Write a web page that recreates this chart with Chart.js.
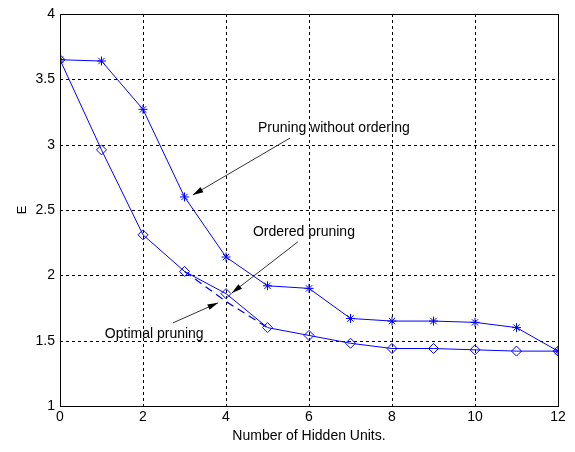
<!DOCTYPE html>
<html>
<head>
<meta charset="utf-8">
<script src="https://cdn.jsdelivr.net/npm/chart.js@4/dist/chart.umd.min.js"></script>
<style>
  html, body { margin: 0; padding: 0; background: #fff; }
  #wrap { width: 575px; height: 452px; }
</style>
</head>
<body>
<div id="wrap"><canvas id="myChart" width="575" height="452"></canvas></div>
<script>
// data
var units = [0, 1, 2, 3, 4, 5, 6, 7, 8, 9, 10, 11, 12];
var withoutOrdering = [3.65, 3.64, 3.27, 2.60, 2.14, 1.92, 1.90, 1.67, 1.65, 1.65, 1.64, 1.60, 1.42];
var orderedPruning = [3.65, 2.96, 2.31, 2.03, 1.86, 1.60, 1.54, 1.48, 1.44, 1.44, 1.43, 1.42, 1.42];
var optimalUnits = [3, 4, 5];
var optimalPruning = [2.03, 1.80, 1.60];
var xTicks = [0, 2, 4, 6, 8, 10, 12];
var yTicks = [1, 1.5, 2, 2.5, 3, 3.5, 4];

// text labels with arrows, in data units
var notes = [
  { text: "Pruning without ordering", x: 4.77, y: 3.13, from: [5.54, 3.05], to: [3.2, 2.615] },
  { text: "Ordered pruning", x: 4.65, y: 2.33, from: [5.73, 2.256], to: [4.14, 1.865] },
  { text: "Optimal pruning", x: 1.08, y: 1.55, from: [2.72, 1.636], to: [3.81, 1.79] }
];

function toPoints(xs, ys) {
  var out = [];
  for (var i = 0; i < xs.length; i++) out.push({ x: xs[i], y: ys[i] });
  return out;
}

var blue = "#0000ff";
var fam = "'Liberation Sans', Arial, sans-serif";

// dotted grid (matlab style), drawn at the scale ticks
var dashGrid = {
  id: "dashGrid",
  beforeDatasetsDraw: function (chart) {
    var ctx = chart.ctx;
    var xs = chart.scales.x, ys = chart.scales.y;
    var a = chart.chartArea;
    ctx.save();
    ctx.strokeStyle = "#000";
    ctx.lineWidth = 1;
    ctx.setLineDash([3, 3]);
    xs.ticks.forEach(function (t) {
      var px = Math.round(xs.getPixelForValue(t.value)) + 0.5;
      ctx.beginPath();
      ctx.moveTo(px, a.top);
      ctx.lineTo(px, a.bottom);
      ctx.stroke();
    });
    ys.ticks.forEach(function (t) {
      var py = Math.round(ys.getPixelForValue(t.value)) + 0.5;
      ctx.beginPath();
      ctx.moveTo(a.left, py);
      ctx.lineTo(a.right, py);
      ctx.stroke();
    });
    ctx.restore();
  }
};

// box round the plot and the arrows
var extras = {
  id: "extras",
  afterDatasetsDraw: function (chart) {
    var ctx = chart.ctx;
    var xs = chart.scales.x, ys = chart.scales.y;
    var a = chart.chartArea;
    ctx.save();
    ctx.strokeStyle = "#000";
    ctx.lineWidth = 1;
    ctx.setLineDash([]);
    ctx.strokeRect(Math.round(a.left) + 0.5, Math.round(a.top) + 0.5,
      Math.round(a.right - a.left), Math.round(a.bottom - a.top));

    ctx.font = "14px " + fam;
    ctx.textBaseline = "middle";
    ctx.textAlign = "left";
    for (var i = 0; i < notes.length; i++) {
      var n = notes[i];
      ctx.fillStyle = "#000";
      ctx.fillText(n.text, xs.getPixelForValue(n.x), ys.getPixelForValue(n.y));
      var x1 = xs.getPixelForValue(n.from[0]), y1 = ys.getPixelForValue(n.from[1]);
      var x2 = xs.getPixelForValue(n.to[0]), y2 = ys.getPixelForValue(n.to[1]);
      ctx.strokeStyle = "#333";
      ctx.beginPath();
      ctx.moveTo(x1, y1);
      ctx.lineTo(x2, y2);
      ctx.stroke();
      var ang = Math.atan2(y2 - y1, x2 - x1);
      var len = 11, wid = 0.27;
      ctx.fillStyle = "#000";
      ctx.beginPath();
      ctx.moveTo(x2, y2);
      ctx.lineTo(x2 - len * Math.cos(ang - wid), y2 - len * Math.sin(ang - wid));
      ctx.lineTo(x2 - len * Math.cos(ang + wid), y2 - len * Math.sin(ang + wid));
      ctx.closePath();
      ctx.fill();
    }
    ctx.restore();
  }
};

var config = {
  type: "line",
  data: {
    datasets: [
      {
        label: "Pruning without ordering",
        data: toPoints(units, withoutOrdering),
        borderColor: blue,
        backgroundColor: blue,
        borderWidth: 1,
        pointStyle: "star",
        pointRadius: 4.5,
        pointBorderWidth: 1,
        tension: 0
      },
      {
        label: "Ordered pruning",
        data: toPoints(units, orderedPruning),
        borderColor: blue,
        backgroundColor: "rgba(0,0,0,0)",
        borderWidth: 1,
        pointStyle: "rectRot",
        pointRadius: 5,
        pointBorderWidth: 1,
        tension: 0
      },
      {
        label: "Optimal pruning",
        data: toPoints(optimalUnits, optimalPruning),
        borderColor: blue,
        borderWidth: 1.2,
        borderDash: [8, 5],
        pointRadius: 0,
        tension: 0
      }
    ]
  },
  options: {
    responsive: false,
    animation: false,
    layout: { padding: { left: 11, right: 17, top: 14, bottom: 3 } },
    plugins: { legend: { display: false }, tooltip: { enabled: false } },
    scales: {
      x: {
        type: "linear",
        min: 0,
        max: 12,
        afterBuildTicks: function (scale) {
          scale.ticks = xTicks.map(function (v) { return { value: v }; });
        },
        afterFit: function (scale) { scale.height = 43; },
        grid: { display: false, drawTicks: false },
        border: { display: false },
        ticks: {
          color: "#000",
          padding: 3,
          maxRotation: 0,
          font: { family: fam, size: 14 },
          callback: function (v) { return String(v); }
        },
        title: {
          display: true,
          text: "Number of Hidden Units.",
          color: "#000",
          font: { family: fam, size: 14 }
        }
      },
      y: {
        type: "linear",
        min: 1,
        max: 4,
        afterBuildTicks: function (scale) {
          scale.ticks = yTicks.map(function (v) { return { value: v }; });
        },
        afterFit: function (scale) { scale.width = 49; },
        grid: { display: false, drawTicks: false },
        border: { display: false },
        ticks: {
          color: "#000",
          padding: 5,
          font: { family: fam, size: 14 },
          callback: function (v) { return String(v); }
        },
        title: {
          display: true,
          text: "E",
          color: "#000",
          font: { family: fam, size: 13 }
        }
      }
    }
  },
  plugins: [dashGrid, extras]
};

var myChart = new Chart(document.getElementById("myChart"), config);
</script>
</body>
</html>
